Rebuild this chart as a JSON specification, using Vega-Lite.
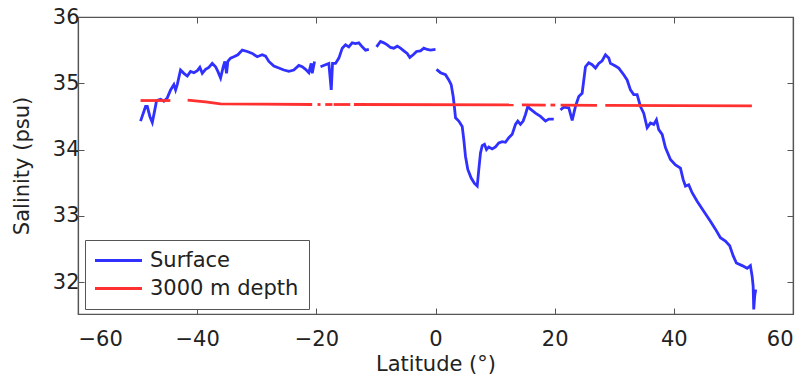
{
  "$schema": "https://vega.github.io/schema/vega-lite/v6.json",
  "width": 715,
  "height": 297,
  "autosize": {"type": "none"},
  "padding": {"left": 78, "top": 17, "right": 14, "bottom": 65},
  "background": "white",
  "config": {
    "view": {"stroke": "#555555", "strokeWidth": 1.2},
    "font": "DejaVu Sans",
    "axis": {
      "grid": false,
      "domainColor": "#555555",
      "domainWidth": 1.2,
      "tickColor": "#555555",
      "tickSize": -6,
      "labelFont": "DejaVu Sans",
      "labelFontSize": 21,
      "labelColor": "#222222",
      "titleFont": "DejaVu Sans",
      "titleFontSize": 21,
      "titleFontWeight": "normal",
      "titleColor": "#222222"
    }
  },
  "data": {
    "values": [
      {"s":"Surface","g":1,"x":-49.5,"y":34.43},{"s":"Surface","g":1,"x":-48.66,"y":34.65},{"s":"Surface","g":1,"x":-48.37,"y":34.65},{"s":"Surface","g":1,"x":-47.94,"y":34.5},{"s":"Surface","g":1,"x":-47.53,"y":34.41},{"s":"Surface","g":1,"x":-47.15,"y":34.58},{"s":"Surface","g":1,"x":-46.81,"y":34.74},{"s":"Surface","g":1,"x":-46.14,"y":34.76},{"s":"Surface","g":1,"x":-45.59,"y":34.73},{"s":"Surface","g":1,"x":-45.02,"y":34.78},{"s":"Surface","g":1,"x":-44.46,"y":34.9},{"s":"Surface","g":1,"x":-43.91,"y":34.98},{"s":"Surface","g":1,"x":-43.62,"y":34.9},{"s":"Surface","g":1,"x":-43.34,"y":34.98},{"s":"Surface","g":1,"x":-42.79,"y":35.2},{"s":"Surface","g":1,"x":-42.23,"y":35.15},{"s":"Surface","g":1,"x":-41.66,"y":35.11},{"s":"Surface","g":1,"x":-41.11,"y":35.18},{"s":"Surface","g":1,"x":-40.55,"y":35.16},{"s":"Surface","g":1,"x":-39.98,"y":35.19},{"s":"Surface","g":1,"x":-39.55,"y":35.24},{"s":"Surface","g":1,"x":-39.14,"y":35.15},{"s":"Surface","g":1,"x":-38.59,"y":35.21},{"s":"Surface","g":1,"x":-38.04,"y":35.24},{"s":"Surface","g":1,"x":-37.47,"y":35.3},{"s":"Surface","g":1,"x":-36.91,"y":35.25},{"s":"Surface","g":1,"x":-36.53,"y":35.18},{"s":"Surface","g":1,"x":-36.07,"y":35.08},{"s":"Surface","g":1,"x":-35.62,"y":35.25},{"s":"Surface","g":1,"x":-35.35,"y":35.33},{"s":"Surface","g":1,"x":-35.07,"y":35.15},{"s":"Surface","g":1,"x":-34.85,"y":35.33},{"s":"Surface","g":1,"x":-34.4,"y":35.38},{"s":"Surface","g":1,"x":-33.84,"y":35.4},{"s":"Surface","g":1,"x":-33.17,"y":35.43},{"s":"Surface","g":1,"x":-32.43,"y":35.5},{"s":"Surface","g":1,"x":-31.59,"y":35.48},{"s":"Surface","g":1,"x":-30.75,"y":35.45},{"s":"Surface","g":1,"x":-29.92,"y":35.4},{"s":"Surface","g":1,"x":-29.08,"y":35.43},{"s":"Surface","g":1,"x":-28.52,"y":35.41},{"s":"Surface","g":1,"x":-27.97,"y":35.33},{"s":"Surface","g":1,"x":-27.13,"y":35.26},{"s":"Surface","g":1,"x":-26.29,"y":35.23},{"s":"Surface","g":1,"x":-25.45,"y":35.2},{"s":"Surface","g":1,"x":-24.61,"y":35.18},{"s":"Surface","g":1,"x":-23.78,"y":35.2},{"s":"Surface","g":1,"x":-22.94,"y":35.27},{"s":"Surface","g":1,"x":-22.37,"y":35.25},{"s":"Surface","g":1,"x":-21.81,"y":35.21},{"s":"Surface","g":1,"x":-21.26,"y":35.16},{"s":"Surface","g":1,"x":-20.86,"y":35.3},{"s":"Surface","g":1,"x":-20.69,"y":35.15},{"s":"Surface","g":1,"x":-20.3,"y":35.33},
      {"s":"Surface","g":2,"x":-19.3,"y":35.25},{"s":"Surface","g":2,"x":-18.46,"y":35.28},{"s":"Surface","g":2,"x":-17.9,"y":35.3},{"s":"Surface","g":2,"x":-17.5,"y":34.9},{"s":"Surface","g":2,"x":-17.28,"y":35.3},{"s":"Surface","g":2,"x":-16.78,"y":35.3},{"s":"Surface","g":2,"x":-16.22,"y":35.38},{"s":"Surface","g":2,"x":-15.65,"y":35.53},{"s":"Surface","g":2,"x":-15.1,"y":35.58},{"s":"Surface","g":2,"x":-14.55,"y":35.55},{"s":"Surface","g":2,"x":-13.98,"y":35.61},{"s":"Surface","g":2,"x":-13.42,"y":35.6},{"s":"Surface","g":2,"x":-12.87,"y":35.61},{"s":"Surface","g":2,"x":-12.3,"y":35.55},{"s":"Surface","g":2,"x":-11.74,"y":35.5},{"s":"Surface","g":2,"x":-11.19,"y":35.51},
      {"s":"Surface","g":3,"x":-9.9,"y":35.55},{"s":"Surface","g":3,"x":-9.23,"y":35.63},{"s":"Surface","g":3,"x":-8.67,"y":35.61},{"s":"Surface","g":3,"x":-8.1,"y":35.58},{"s":"Surface","g":3,"x":-7.55,"y":35.54},{"s":"Surface","g":3,"x":-7.0,"y":35.53},{"s":"Surface","g":3,"x":-6.43,"y":35.56},{"s":"Surface","g":3,"x":-5.87,"y":35.53},{"s":"Surface","g":3,"x":-5.32,"y":35.49},{"s":"Surface","g":3,"x":-4.75,"y":35.45},{"s":"Surface","g":3,"x":-4.31,"y":35.39},{"s":"Surface","g":3,"x":-3.74,"y":35.43},{"s":"Surface","g":3,"x":-3.19,"y":35.48},{"s":"Surface","g":3,"x":-2.52,"y":35.49},{"s":"Surface","g":3,"x":-1.96,"y":35.53},{"s":"Surface","g":3,"x":-1.39,"y":35.51},{"s":"Surface","g":3,"x":-0.84,"y":35.5},{"s":"Surface","g":3,"x":0.0,"y":35.51},
      {"s":"Surface","g":4,"x":0.17,"y":35.21},{"s":"Surface","g":4,"x":0.84,"y":35.16},{"s":"Surface","g":4,"x":1.68,"y":35.13},{"s":"Surface","g":4,"x":2.23,"y":35.05},{"s":"Surface","g":4,"x":2.63,"y":34.98},{"s":"Surface","g":4,"x":2.97,"y":34.8},{"s":"Surface","g":4,"x":3.19,"y":34.63},{"s":"Surface","g":4,"x":3.36,"y":34.48},{"s":"Surface","g":4,"x":3.91,"y":34.43},{"s":"Surface","g":4,"x":4.48,"y":34.35},{"s":"Surface","g":4,"x":4.75,"y":34.15},{"s":"Surface","g":4,"x":5.03,"y":33.9},{"s":"Surface","g":4,"x":5.42,"y":33.7},{"s":"Surface","g":4,"x":5.99,"y":33.57},{"s":"Surface","g":4,"x":6.54,"y":33.49},{"s":"Surface","g":4,"x":7.0,"y":33.45},{"s":"Surface","g":4,"x":7.27,"y":33.7},{"s":"Surface","g":4,"x":7.55,"y":33.95},{"s":"Surface","g":4,"x":7.84,"y":34.06},{"s":"Surface","g":4,"x":8.22,"y":34.08},{"s":"Surface","g":4,"x":8.56,"y":34.0},{"s":"Surface","g":4,"x":8.94,"y":34.04},{"s":"Surface","g":4,"x":9.51,"y":34.01},{"s":"Surface","g":4,"x":10.07,"y":34.04},{"s":"Surface","g":4,"x":10.62,"y":34.1},{"s":"Surface","g":4,"x":11.19,"y":34.12},{"s":"Surface","g":4,"x":11.74,"y":34.11},{"s":"Surface","g":4,"x":12.3,"y":34.18},{"s":"Surface","g":4,"x":12.87,"y":34.23},{"s":"Surface","g":4,"x":13.42,"y":34.38},{"s":"Surface","g":4,"x":13.81,"y":34.43},{"s":"Surface","g":4,"x":14.26,"y":34.38},{"s":"Surface","g":4,"x":14.71,"y":34.43},{"s":"Surface","g":4,"x":15.1,"y":34.53},{"s":"Surface","g":4,"x":15.49,"y":34.65},{"s":"Surface","g":4,"x":15.94,"y":34.61},{"s":"Surface","g":4,"x":16.78,"y":34.55},{"s":"Surface","g":4,"x":17.62,"y":34.5},{"s":"Surface","g":4,"x":18.46,"y":34.43},{"s":"Surface","g":4,"x":19.01,"y":34.46},{"s":"Surface","g":4,"x":19.85,"y":34.46},
      {"s":"Surface","g":5,"x":20.97,"y":34.6},{"s":"Surface","g":5,"x":21.53,"y":34.64},{"s":"Surface","g":5,"x":22.37,"y":34.63},{"s":"Surface","g":5,"x":22.94,"y":34.44},{"s":"Surface","g":5,"x":23.49,"y":34.65},{"s":"Surface","g":5,"x":24.04,"y":34.8},{"s":"Surface","g":5,"x":24.61,"y":34.85},{"s":"Surface","g":5,"x":25.17,"y":35.25},{"s":"Surface","g":5,"x":25.72,"y":35.31},{"s":"Surface","g":5,"x":26.29,"y":35.28},{"s":"Surface","g":5,"x":26.85,"y":35.23},{"s":"Surface","g":5,"x":27.4,"y":35.3},{"s":"Surface","g":5,"x":27.97,"y":35.34},{"s":"Surface","g":5,"x":28.52,"y":35.43},{"s":"Surface","g":5,"x":29.08,"y":35.38},{"s":"Surface","g":5,"x":29.36,"y":35.3},{"s":"Surface","g":5,"x":30.2,"y":35.26},{"s":"Surface","g":5,"x":30.75,"y":35.23},{"s":"Surface","g":5,"x":31.59,"y":35.13},{"s":"Surface","g":5,"x":32.16,"y":35.05},{"s":"Surface","g":5,"x":32.72,"y":34.9},{"s":"Surface","g":5,"x":33.27,"y":34.83},{"s":"Surface","g":5,"x":33.84,"y":34.83},{"s":"Surface","g":5,"x":34.4,"y":34.65},{"s":"Surface","g":5,"x":34.95,"y":34.55},{"s":"Surface","g":5,"x":35.52,"y":34.33},{"s":"Surface","g":5,"x":36.07,"y":34.4},{"s":"Surface","g":5,"x":36.63,"y":34.38},{"s":"Surface","g":5,"x":37.08,"y":34.45},{"s":"Surface","g":5,"x":37.47,"y":34.3},{"s":"Surface","g":5,"x":38.04,"y":34.23},{"s":"Surface","g":5,"x":38.59,"y":34.03},{"s":"Surface","g":5,"x":39.43,"y":33.85},{"s":"Surface","g":5,"x":40.27,"y":33.77},{"s":"Surface","g":5,"x":41.11,"y":33.72},{"s":"Surface","g":5,"x":41.56,"y":33.55},{"s":"Surface","g":5,"x":41.95,"y":33.45},{"s":"Surface","g":5,"x":42.5,"y":33.47},{"s":"Surface","g":5,"x":43.07,"y":33.35},{"s":"Surface","g":5,"x":43.91,"y":33.22},{"s":"Surface","g":5,"x":45.02,"y":33.07},{"s":"Surface","g":5,"x":46.14,"y":32.92},{"s":"Surface","g":5,"x":46.98,"y":32.8},{"s":"Surface","g":5,"x":47.82,"y":32.67},{"s":"Surface","g":5,"x":48.66,"y":32.62},{"s":"Surface","g":5,"x":49.38,"y":32.55},{"s":"Surface","g":5,"x":49.95,"y":32.4},{"s":"Surface","g":5,"x":50.5,"y":32.29},{"s":"Surface","g":5,"x":51.46,"y":32.25},{"s":"Surface","g":5,"x":52.3,"y":32.21},{"s":"Surface","g":5,"x":52.85,"y":32.25},{"s":"Surface","g":5,"x":53.14,"y":32.09},{"s":"Surface","g":5,"x":53.31,"y":31.94},{"s":"Surface","g":5,"x":53.41,"y":31.59},{"s":"Surface","g":5,"x":53.57,"y":31.79},{"s":"Surface","g":5,"x":53.74,"y":31.89},
      {"s":"3000 m depth","g":11,"x":-49.5,"y":34.74},{"s":"3000 m depth","g":11,"x":-44.5,"y":34.74},
      {"s":"3000 m depth","g":12,"x":-41.6,"y":34.745},{"s":"3000 m depth","g":12,"x":-38.6,"y":34.72},{"s":"3000 m depth","g":12,"x":-36.1,"y":34.69},{"s":"3000 m depth","g":12,"x":-29.4,"y":34.685},{"s":"3000 m depth","g":12,"x":-20.7,"y":34.68},
      {"s":"3000 m depth","g":13,"x":-19.8,"y":34.68},{"s":"3000 m depth","g":13,"x":-19.3,"y":34.68},
      {"s":"3000 m depth","g":14,"x":-18.5,"y":34.68},{"s":"3000 m depth","g":14,"x":-17.3,"y":34.68},
      {"s":"3000 m depth","g":15,"x":-17.1,"y":34.68},{"s":"3000 m depth","g":15,"x":-14.3,"y":34.68},
      {"s":"3000 m depth","g":16,"x":-13.7,"y":34.68},{"s":"3000 m depth","g":16,"x":13.1,"y":34.675},
      {"s":"3000 m depth","g":17,"x":14.5,"y":34.675},{"s":"3000 m depth","g":17,"x":18.5,"y":34.672},
      {"s":"3000 m depth","g":18,"x":19.3,"y":34.672},{"s":"3000 m depth","g":18,"x":20.1,"y":34.672},
      {"s":"3000 m depth","g":19,"x":21.0,"y":34.67},{"s":"3000 m depth","g":19,"x":27.1,"y":34.668},
      {"s":"3000 m depth","g":20,"x":28.5,"y":34.668},{"s":"3000 m depth","g":20,"x":53.1,"y":34.66}
    ]
  },
  "layer": [
    {
      "mark": {"type": "line", "strokeWidth": 2.8, "clip": true},
      "encoding": {
        "x": {"field": "x", "type": "quantitative", "scale": {"domain": [-60, 60], "nice": false, "zero": false},
              "axis": {"values": [-60, -40, -20, 0, 20, 40, 60], "title": "Latitude (°)", "labelPadding": 20, "titlePadding": 4}},
        "y": {"field": "y", "type": "quantitative", "scale": {"domain": [31.52, 36], "nice": false, "zero": false},
              "axis": {"values": [32, 33, 34, 35, 36], "title": "Salinity (psu)", "labelPadding": 5, "titlePadding": 20}},
        "color": {"field": "s", "type": "nominal",
                  "scale": {"domain": ["Surface", "3000 m depth"], "range": ["#3030ff", "#ff3030"]},
                  "legend": {"title": null, "orient": "none", "legendX": 7, "legendY": 223,
                             "fillColor": "white", "strokeColor": "#555555", "padding": 10,
                             "labelFont": "DejaVu Sans", "labelFontSize": 21, "labelColor": "#222222",
                             "symbolType": "M-4.7,0H4.7", "symbolStrokeWidth": 3, "symbolSize": 100,
                             "symbolOffset": 13, "labelOffset": 21, "rowPadding": 6}},
        "detail": {"field": "g", "type": "nominal"},
        "order": {"field": "x", "type": "quantitative"}
      }
    },
    {
      "mark": {"type": "line", "opacity": 0},
      "encoding": {
        "x": {"field": "x", "type": "quantitative",
              "axis": {"orient": "top", "values": [-60, -40, -20, 0, 20, 40, 60], "labels": false, "title": null}},
        "y": {"field": "y", "type": "quantitative",
              "axis": {"orient": "right", "values": [32, 33, 34, 35, 36], "labels": false, "title": null}},
        "detail": {"field": "g", "type": "nominal"}
      }
    }
  ],
  "resolve": {"axis": {"x": "independent", "y": "independent"}}
}
